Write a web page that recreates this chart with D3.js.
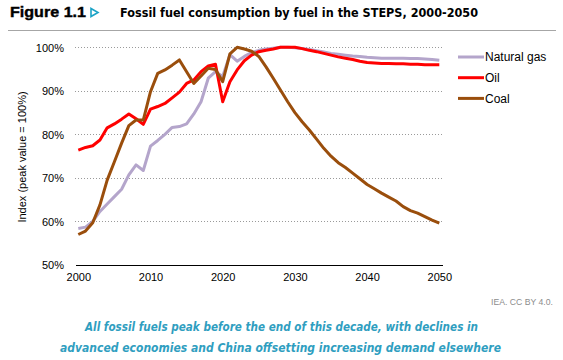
<!DOCTYPE html>
<html><head><meta charset="utf-8">
<script src="https://cdn.jsdelivr.net/npm/d3@7"></script>
<style>body{margin:0;background:#fff}svg{display:block}</style>
</head><body>
<svg id="chart" width="563" height="360"></svg>
<script>
const years = d3.range(2000, 2051);
const naturalGas = [58.4,58.7,60.0,62.3,64.0,65.7,67.4,70.7,73.0,71.7,
  77.3,78.6,80.0,81.6,81.8,82.4,84.7,87.5,92.9,94.4,
  93.3,98.3,96.8,97.9,98.8,99.3,99.6,99.8,100,100,
  99.9,99.7,99.5,99.2,98.9,98.6,98.4,98.2,98.0,97.9,
  97.7,97.6,97.5,97.5,97.5,97.5,97.4,97.4,97.3,97.2,97.0];
const oil = [76.4,77.0,77.4,78.7,81.5,82.4,83.5,84.7,83.6,82.3,
  85.8,86.4,87.1,88.4,89.7,91.7,92.5,94.4,95.7,96.1,
  87.5,92.1,94.8,96.9,98.2,99.0,99.3,99.6,100,100,
  100,99.7,99.3,99.0,98.6,98.2,97.8,97.5,97.2,96.8,
  96.5,96.4,96.3,96.3,96.2,96.2,96.1,96.1,96.0,96.0,96.0];
const coal = [57.0,57.8,59.7,63.8,69.5,73.7,78.0,82.0,83.3,83.3,
  89.8,94.0,94.8,95.9,97.1,94.4,91.7,93.4,95.2,94.9,
  92.1,98.5,100,99.6,99.1,97.9,95.5,92.9,90.2,87.5,
  85.0,82.9,81.0,78.9,76.8,75.0,73.5,72.4,71.1,69.8,
  68.5,67.5,66.5,65.6,64.7,63.4,62.5,61.9,61.1,60.3,59.6];
const seriesNames = ["Natural gas","Oil","Coal"];
const seriesColors = ["#b4a5cb","#ff0000","#9a4e0c"];
const yTicks = [50,60,70,80,90,100];
const xTicks = [2000,2010,2020,2030,2040,2050];

const svg = d3.select("#chart");
const x = d3.scaleLinear().domain([2000,2050]).range([78.3,439.3]);
const y = d3.scaleLinear().domain([50,100]).range([265,47.3]);

// Title
svg.append("text").attr("x",10).attr("y",17).attr("font-family","'Liberation Sans',Arial,sans-serif")
  .attr("font-weight","900").attr("font-size",14.5).attr("fill","#000").text("Figure 1.1")
  .attr("textLength",76).attr("lengthAdjust","spacingAndGlyphs")
  .attr("stroke","#000").attr("stroke-width",0.4);
svg.append("path").attr("d","M91,8.5 L98,12.5 L91,16.5 Z").attr("fill","none").attr("stroke","#1ba3c6").attr("stroke-width",1.6);
svg.append("text").attr("x",120).attr("y",17).attr("font-family","'DejaVu Sans',sans-serif")
  .attr("font-weight","bold").attr("font-size",12.5).attr("fill","#000")
  .text("Fossil fuel consumption by fuel in the STEPS, 2000-2050")
  .attr("textLength",358).attr("lengthAdjust","spacingAndGlyphs");
svg.append("line").attr("x1",8).attr("x2",556).attr("y1",30.5).attr("y2",30.5).attr("stroke","#a6a6a6").attr("stroke-width",1.2);

// gridlines
svg.append("g").selectAll("line").data(yTicks.filter(d=>d>50)).join("line")
  .attr("x1",75).attr("x2",443).attr("y1",d=>Math.round(y(d))+0.5).attr("y2",d=>Math.round(y(d))+0.5)
  .attr("stroke","#9a9a9a").attr("stroke-width",1).attr("stroke-dasharray","1,2");

// y axis
const yAxis = d3.axisLeft(y).tickValues(yTicks).tickSize(0).tickPadding(0).tickFormat(d=>d+"%");
const gy = svg.append("g").attr("transform","translate(64,0)").call(yAxis);
gy.select(".domain").remove();
gy.selectAll("text").attr("font-family","'Liberation Sans',Arial,sans-serif").attr("font-size",11).attr("fill","#000").attr("dy","0.35em");

// x axis
const xAxis = d3.axisBottom(x).tickValues(xTicks).tickSize(0).tickPadding(8).tickFormat(d3.format("d"));
const gx = svg.append("g").attr("transform","translate(0,265)").call(xAxis);
gx.select(".domain").remove();
gx.selectAll("text").attr("font-family","'Liberation Sans',Arial,sans-serif").attr("font-size",11).attr("fill","#000");
svg.append("line").attr("x1",76).attr("x2",443).attr("y1",265.5).attr("y2",265.5).attr("stroke","#000").attr("stroke-width",1.2);

// y label
svg.append("text").attr("transform","translate(26,157) rotate(-90)").attr("text-anchor","middle")
  .attr("font-family","'Liberation Sans',Arial,sans-serif").attr("font-size",11).attr("fill","#000")
  .text("Index (peak value = 100%)");

// lines
const data = [naturalGas, oil, coal];
const line = d3.line().x((d,i)=>x(years[i])).y(d=>y(d));
svg.append("g").selectAll("path").data(data).join("path")
  .attr("d",line).attr("fill","none")
  .attr("stroke",(d,i)=>seriesColors[i]).attr("stroke-width",3)
  .attr("stroke-linejoin","round");

// legend
const lg = svg.append("g").selectAll("g").data(seriesNames).join("g")
  .attr("transform",(d,i)=>`translate(458,${57+i*20.7})`);
lg.append("line").attr("x1",0).attr("x2",26).attr("stroke",(d,i)=>seriesColors[i]).attr("stroke-width",3);
lg.append("text").attr("x",27).attr("dy","0.35em").attr("font-family","'Liberation Sans',Arial,sans-serif")
  .attr("font-size",12).attr("fill","#000").text(d=>d);

// source
svg.append("text").attr("x",553).attr("y",305).attr("text-anchor","end")
  .attr("font-family","'Liberation Sans',Arial,sans-serif").attr("font-size",9).attr("fill","#8c8c8c")
  .attr("textLength",62).attr("lengthAdjust","spacingAndGlyphs").text("IEA. CC BY 4.0.");

// caption
const cap = ["All fossil fuels peak before the end of this decade, with declines in",
             "advanced economies and China offsetting increasing demand elsewhere"];
const capX = [85, 60];
const capW = [393, 441];
svg.append("g").selectAll("text").data(cap).join("text")
  .attr("x",(d,i)=>capX[i]).attr("y",(d,i)=>331+i*21)
  .attr("font-family","'DejaVu Sans',sans-serif").attr("font-style","italic").attr("font-weight","bold")
  .attr("font-size",11.5).attr("fill","#2f9ec0")
  .attr("textLength",(d,i)=>capW[i]).attr("lengthAdjust","spacingAndGlyphs")
  .text(d=>d);
</script>
</body></html>
